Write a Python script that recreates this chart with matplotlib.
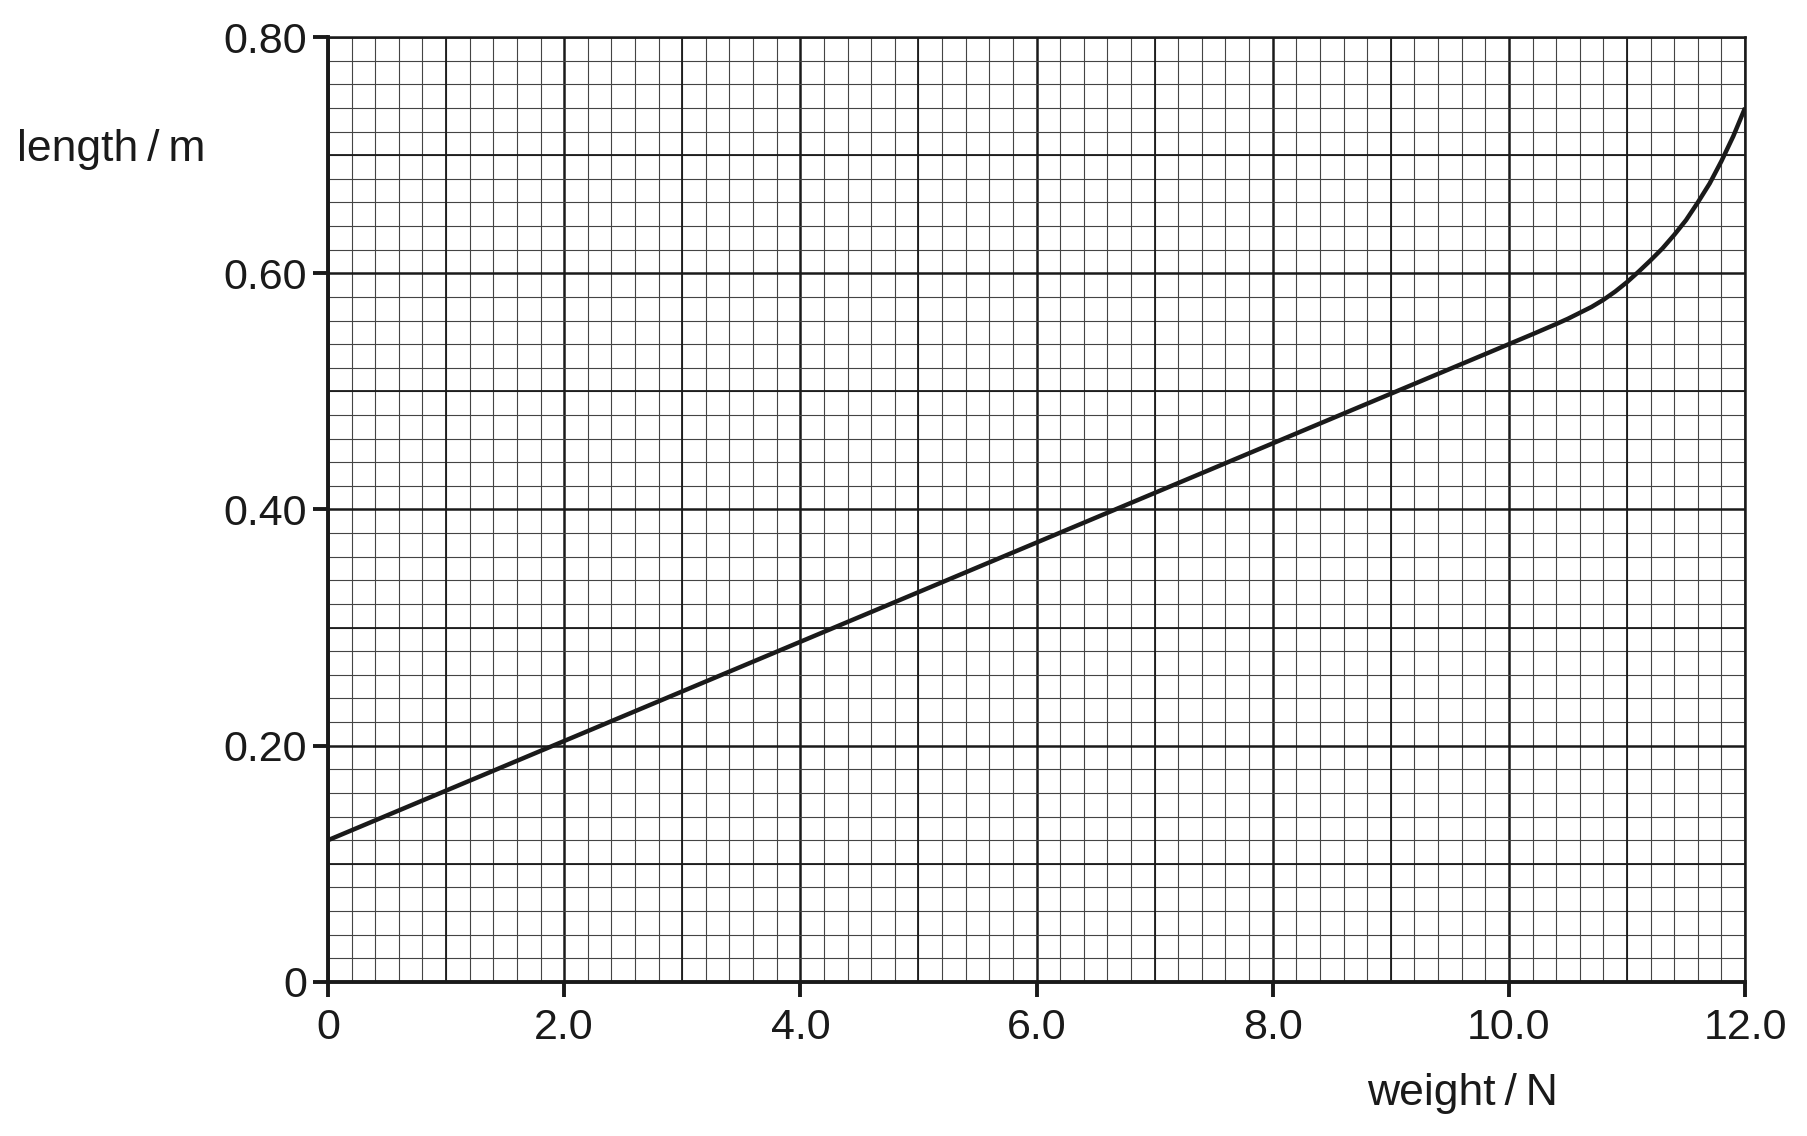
import numpy as np
import matplotlib.pyplot as plt

plt.rcParams['font.family'] = ['Liberation Sans', 'DejaVu Sans']

# values
weight = [0.0, 2.0, 4.0, 6.0, 8.0, 10.0, 10.2, 10.4, 10.5, 10.6, 10.7,
          10.8, 10.9, 11.0, 11.1, 11.2, 11.3, 11.4, 11.5, 11.6, 11.7, 11.8,
          11.9, 12.0]
length = [0.120, 0.204, 0.288, 0.372, 0.456, 0.540, 0.5484, 0.557, 0.5615,
          0.5665, 0.5715, 0.5775, 0.5845, 0.5925, 0.6015, 0.611, 0.621,
          0.6325, 0.645, 0.660, 0.676, 0.695, 0.716, 0.740]

x_ticks = [0, 2.0, 4.0, 6.0, 8.0, 10.0, 12.0]
x_labels = ['0', '2.0', '4.0', '6.0', '8.0', '10.0', '12.0']
y_ticks = [0, 0.20, 0.40, 0.60, 0.80]
y_labels = ['0', '0.20', '0.40', '0.60', '0.80']

ink = '#1a1a1a'

fig = plt.figure(figsize=(18.08, 11.36), dpi=100)
ax = fig.add_axes([0.1814, 0.1356, 0.9652 - 0.1814, 0.9674 - 0.1356])

ax.set_xlim(0, 12)
ax.set_ylim(0, 0.8)

ax.set_xticks(x_ticks)
ax.set_xticklabels(x_labels)
ax.set_yticks(y_ticks)
ax.set_yticklabels(y_labels)
ax.set_xticks(np.arange(0, 12.01, 0.2), minor=True)
ax.set_yticks(np.arange(0, 0.801, 0.02), minor=True)

# graph paper
ax.grid(which='minor', color='#444444', linewidth=0.8)
ax.grid(which='major', color=ink, linewidth=1.8)
for v in np.arange(1, 12, 2):
    ax.axvline(v, color=ink, linewidth=1.3, zorder=0.9)
for v in np.arange(0.1, 0.8, 0.2):
    ax.axhline(v, color=ink, linewidth=1.3, zorder=0.9)
ax.set_axisbelow(True)

ax.plot(weight, length, color=ink, linewidth=3.2, zorder=3,
        solid_joinstyle='round', solid_capstyle='butt')

for side in ['left', 'bottom']:
    ax.spines[side].set_linewidth(2.8)
    ax.spines[side].set_color(ink)
for side in ['top', 'right']:
    ax.spines[side].set_linewidth(1.8)
    ax.spines[side].set_color(ink)

ax.tick_params(which='major', direction='out', length=11, width=2.8,
               color=ink, labelsize=31, labelcolor=ink)
ax.tick_params(axis='x', which='major', pad=8)
ax.tick_params(axis='y', which='major', pad=4)
ax.tick_params(which='minor', length=0)

fig.text(0.0094, 0.868, 'length\u2009/\u2009m', fontsize=32, color=ink,
         ha='left', va='center')
fig.text(0.756, 0.037, 'weight\u2009/\u2009N', fontsize=32, color=ink,
         ha='left', va='center')

fig.savefig('out.png', dpi=100)
